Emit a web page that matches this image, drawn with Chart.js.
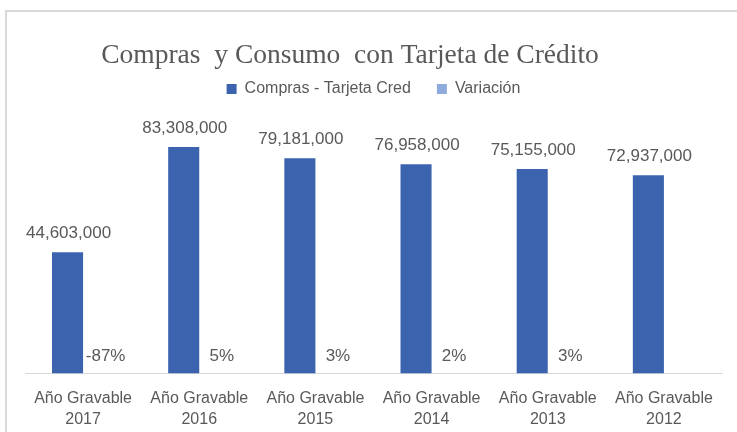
<!DOCTYPE html>
<html>
<head>
<meta charset="utf-8">
<script src="https://cdn.jsdelivr.net/npm/chart.js@4"></script>
<style>
  html, body { margin: 0; padding: 0; background: #fff; }
  #wrap { width: 737px; height: 432px; }
</style>
</head>
<body>
<div id="wrap"><canvas id="grafico" width="737" height="432"></canvas></div>
<script>
// datos del gráfico
const titulo = 'Compras  y Consumo  con Tarjeta de Crédito';
const anios = ['2017', '2016', '2015', '2014', '2013', '2012'];
const categorias = anios.map(a => ['Año Gravable', a]);
const compras = [44603000, 83308000, 79181000, 76958000, 75155000, 72937000];
const variacion = [-0.87, 0.05, 0.03, 0.02, 0.03, null];
const ejeMax = 98000000;

const gris = '#595959';
const fuente = "'Liberation Sans', Arial, sans-serif";

// marco y título
const marco = {
  id: 'marco',
  beforeDraw(chart) {
    const ctx = chart.ctx;
    ctx.save();
    ctx.strokeStyle = '#d9d9d9';
    ctx.lineWidth = 2;
    ctx.beginPath();
    ctx.moveTo(6, 432);
    ctx.lineTo(6, 11);
    ctx.lineTo(737, 11);
    ctx.stroke();
    ctx.fillStyle = gris;
    ctx.font = "27.5px 'Liberation Serif', 'Times New Roman', serif";
    ctx.textAlign = 'center';
    ctx.textBaseline = 'alphabetic';
    ctx.fillText(titulo, 350, 63);
    ctx.restore();
  }
};

// etiquetas de datos
const etiquetas = {
  id: 'etiquetas',
  afterDatasetsDraw(chart) {
    const ctx = chart.ctx;
    const base = chart.scales.y.getPixelForValue(0);
    ctx.save();
    ctx.fillStyle = gris;
    ctx.font = '17px ' + fuente;
    ctx.textAlign = 'center';
    ctx.textBaseline = 'middle';
    chart.getDatasetMeta(0).data.forEach((bar, i) => {
      ctx.fillText(compras[i].toLocaleString('en-US'), bar.x + 1, bar.y - 19);
    });
    chart.getDatasetMeta(1).data.forEach((bar, i) => {
      if (variacion[i] === null) return;
      ctx.fillText(Math.round(variacion[i] * 100) + '%', bar.x + 7, base - 17.5);
    });
    ctx.restore();
  }
};

new Chart(document.getElementById('grafico'), {
  type: 'bar',
  data: {
    labels: categorias,
    datasets: [
      {
        label: 'Compras - Tarjeta Cred',
        data: compras,
        backgroundColor: '#3c64ae',
        barPercentage: 1,
        categoryPercentage: 0.535,
      },
      {
        label: 'Variación',
        data: variacion,
        backgroundColor: '#8faadc',
        barPercentage: 1,
        categoryPercentage: 0.535,
      },
    ],
  },
  options: {
    responsive: false,
    animation: false,
    devicePixelRatio: 1,
    layout: { padding: { top: 55, left: 25, right: 15, bottom: -13 } },
    plugins: {
      title: { display: false },
      tooltip: { enabled: false },
      legend: {
        position: 'top',
        labels: {
          boxWidth: 10,
          boxHeight: 10,
          padding: 26,
          color: gris,
          font: { family: fuente, size: 16 },
        },
      },
    },
    scales: {
      x: {
        grid: { display: false, drawTicks: false },
        border: { display: true, color: '#d9d9d9', width: 1 },
        ticks: {
          color: gris,
          padding: 15,
          maxRotation: 0,
          font: { family: fuente, size: 16, lineHeight: 1.3 },
        },
      },
      y: {
        display: false,
        min: 0,
        max: ejeMax,
      },
    },
  },
  plugins: [marco, etiquetas],
});
</script>
</body>
</html>
